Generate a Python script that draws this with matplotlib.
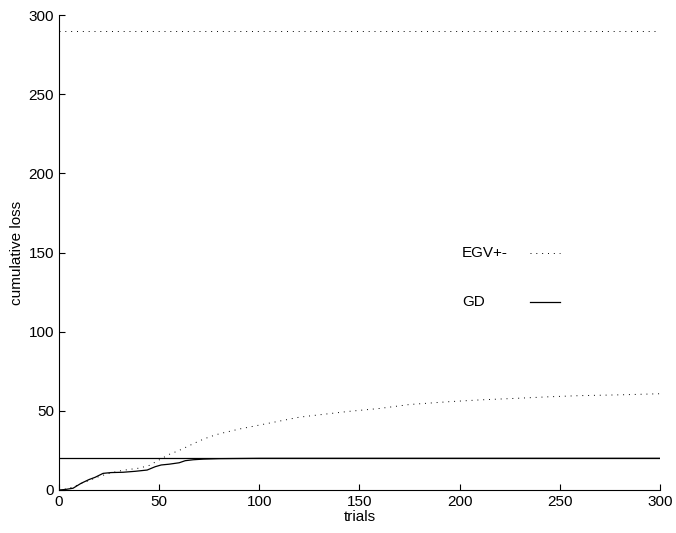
import matplotlib
matplotlib.use("Agg")
import matplotlib.pyplot as plt

plt.rcParams["font.family"] = ["Liberation Sans", "DejaVu Sans"]
plt.rcParams["font.size"] = 11

# GD cumulative loss
gd_trials = [0, 3, 7, 11, 15, 18, 22, 26, 32, 38, 44, 48, 51, 55, 60, 63, 67, 72, 80, 90, 100, 120, 300]
gd_loss = [0, 0.3, 1.1, 4.2, 6.6, 8.0, 10.5, 11.0, 11.2, 11.8, 12.6, 14.7, 15.8, 16.3, 17.2, 18.5, 19.1, 19.5, 19.8, 19.9, 20.0, 20.0, 20.0]

# EGV+- cumulative loss
egv_trials = [0, 5, 10, 15, 20, 25, 30, 35, 40, 45, 50, 55, 60, 65, 70, 75, 80, 90, 100, 110, 120, 130,
              145, 160, 175, 195, 210, 230, 245, 260, 280, 300]
egv_loss = [0, 1.0, 3.5, 6.0, 8.5, 10.5, 12.0, 13.0, 13.8, 15.5, 19.0, 22.5, 25.0, 28.0, 31.0, 33.5, 35.5,
            38.5, 41.0, 43.5, 46.0, 47.5, 49.7, 51.5, 54.0, 55.8, 56.9, 58.0, 58.9, 59.6, 60.1, 60.8]

# bounds
gd_bound = 20
egv_bound = 290
x_range = [0, 300]

fig = plt.figure(figsize=(6.76, 5.33), dpi=100)
ax = fig.add_axes([0.0873, 0.0807, 0.889, 0.891])

dotted = (0, (1, 5))
ax.plot(x_range, [egv_bound, egv_bound], color="black", lw=0.7, linestyle=dotted)
ax.plot(x_range, [gd_bound, gd_bound], color="black", lw=0.9)
ax.plot(egv_trials, egv_loss, color="black", lw=0.7, linestyle=dotted)
ax.plot(gd_trials, gd_loss, color="black", lw=0.9)

ax.set_xlim(0, 300)
ax.set_ylim(0, 300)
ax.set_xticks(range(0, 301, 50))
ax.set_yticks(range(0, 301, 50))
ax.spines["top"].set_visible(False)
ax.spines["right"].set_visible(False)
for s in ("left", "bottom"):
    ax.spines[s].set_linewidth(0.8)
ax.tick_params(direction="in", length=4, width=0.8)

ax.set_xlabel("trials", labelpad=1)
ax.set_ylabel("cumulative loss", labelpad=3)

# old-style legend: label on the left, line sample on the right
legend_items = [("EGV+-", dotted, 0.7, 0.499), ("GD", "-", 0.9, 0.396)]
for label, ls, lw, yy in legend_items:
    ax.text(0.6706, yy, label, transform=ax.transAxes, ha="left", va="center")
    ax.plot([0.783, 0.834], [yy, yy], transform=ax.transAxes, color="black", lw=lw, linestyle=ls)

fig.savefig("out.png", dpi=100)
